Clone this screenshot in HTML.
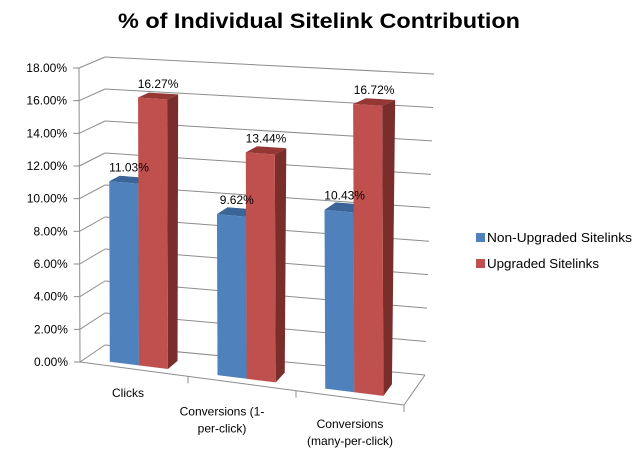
<!DOCTYPE html>
<html><head><meta charset="utf-8"><style>
html,body{margin:0;padding:0;background:#fff;}
svg{display:block;font-family:"Liberation Sans",sans-serif;}
</style></head><body>
<svg id="chart" width="638" height="456" viewBox="0 0 638 456" xmlns="http://www.w3.org/2000/svg">
<text x="319" y="28" text-anchor="middle" font-size="21" font-weight="bold" textLength="402" lengthAdjust="spacingAndGlyphs">% of Individual Sitelink Contribution</text>
<g id="grid"></g><g id="bars"></g><g id="labels"></g>
<g>
<rect x="476" y="233" width="9" height="9" fill="#4F81BD"/>
<text x="487" y="242" font-size="12.5" textLength="145" lengthAdjust="spacingAndGlyphs">Non-Upgraded Sitelinks</text>
<rect x="476" y="259" width="9" height="9" fill="#C0504D"/>
<text x="487" y="268" font-size="12.5" textLength="112" lengthAdjust="spacingAndGlyphs">Upgraded Sitelinks</text>
</g>
</svg>
<script>
const categories = [["Clicks"], ["Conversions (1-", "per-click)"], ["Conversions", "(many-per-click)"]];
const nonUpgraded = [11.03, 9.62, 10.43];
const upgraded = [16.27, 13.44, 16.72];
const yTicks = [0, 2, 4, 6, 8, 10, 12, 14, 16, 18];
const yMax = 18;

const NS = "http://www.w3.org/2000/svg";
const FLB=[80,362],FRB=[404,405],BLB=[105,345],BRB=[425,375];
const FLT=[79,68],FRT=[400,88],BLT=[105,57],BRT=[434,74];
const labelDx=[-6,-20,0], labelDy=[28,32,30];
function bil(a,b,c,d,u,dd){
  const f=[a[0]+(b[0]-a[0])*u,a[1]+(b[1]-a[1])*u];
  const k=[c[0]+(d[0]-c[0])*u,c[1]+(d[1]-c[1])*u];
  return [f[0]+(k[0]-f[0])*dd,f[1]+(k[1]-f[1])*dd];
}
function P(u,v,d){
  const b=bil(FLB,FRB,BLB,BRB,u,d), t=bil(FLT,FRT,BLT,BRT,u,d);
  const s=v/yMax; return [b[0]+(t[0]-b[0])*s,b[1]+(t[1]-b[1])*s];
}
function mk(tag,attrs,parent){const e=document.createElementNS(NS,tag);for(const k in attrs)e.setAttribute(k,attrs[k]);parent.appendChild(e);return e;}
const grid=document.getElementById('grid'),bars=document.getElementById('bars'),labels=document.getElementById('labels');
function line(p,q,name){const e=mk('line',{x1:p[0],y1:p[1],x2:q[0],y2:q[1],stroke:'#8c8c8c','stroke-width':1},grid);

}
yTicks.forEach(v=>{
  line(P(0,v,0),P(0,v,1),'gridline-left-'+v);
  line(P(0,v,1),P(1,v,1),'gridline-back-'+v);
  const a=P(0,v,0);
  line([a[0]-6,a[1]],a,'y-tick-'+v);
  const t=mk('text',{x:a[0]-12,y:a[1]+4,'text-anchor':'end','font-size':12},labels);
  
  
  t.textContent=v.toFixed(2)+'%';
});
line(P(0,0,0),P(0,yMax,0),'y-axis');
line(P(0,0,0),P(1,0,0),'x-axis');
line(P(1,0,0),P(1,0,1),'floor-right-edge');
[1,2].forEach(i=>{const a=P(i/3,0,0);line(a,[a[0],a[1]+7],'x-tick-'+i);});
const a3=P(1,0,0);line(a3,[a3[0],a3[1]+7],'x-tick-3');
function poly(pts,fill,name){const e=mk('polygon',{points:pts.map(p=>p.join(',')).join(' '),fill:fill},bars);

}
const d0=0.2,d1=0.6,bw=0.09;
function bar(u0,u1,v,cols,name){
  poly([P(u1,0,d0),P(u1,0,d1),P(u1,v,d1),P(u1,v,d0)],cols[2],name+'-side');
  poly([P(u0,v,d0),P(u1,v,d0),P(u1,v,d1),P(u0,v,d1)],cols[1],name+'-top');
  poly([P(u0,0,d0),P(u1,0,d0),P(u1,v,d0),P(u0,v,d0)],cols[0],name);
  const c=P((u0+u1)/2,v,(d0+d1)/2);
  const t=mk('text',{x:c[0],y:c[1]-8,'text-anchor':'middle','font-size':12},labels);
  
  
  t.textContent=v.toFixed(2)+'%';
}
categories.forEach((cat,i)=>{
  const c=(i+0.5)/3;
  bar(c-bw,c,nonUpgraded[i],['#4F81BD','#3B6597','#2F5280'],'bar-non-upgraded-'+i);
  bar(c,c+bw,upgraded[i],['#C0504D','#953735','#7A2E2C'],'bar-upgraded-'+i);
  const p=P(c,0,0);
  cat.forEach((ln,j)=>{
    const t=mk('text',{x:p[0]+labelDx[i],y:p[1]+labelDy[i]+j*17,'text-anchor':'middle','font-size':12},labels);
    
    
    t.textContent=ln;
  });
});
</script>
</body></html>
